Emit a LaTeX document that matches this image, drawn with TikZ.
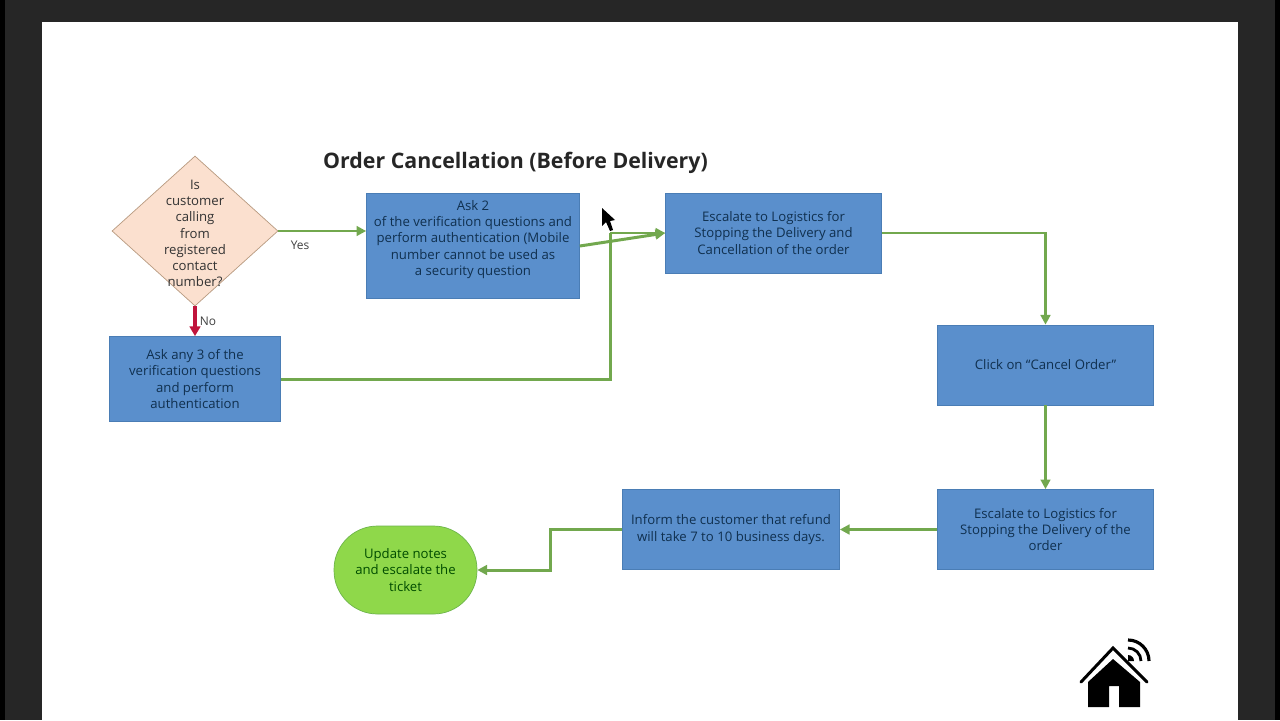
\documentclass[tikz,border=0pt]{standalone}
\usepackage{fontspec}
\setmainfont{Open Sans}
\usetikzlibrary{shapes.geometric,arrows.meta}
\definecolor{boxblue}{HTML}{5A8FCC}
\definecolor{boxedge}{HTML}{4A7DB5}
\definecolor{boxtext}{HTML}{10304F}
\definecolor{linkgreen}{HTML}{72A84E}
\definecolor{linkred}{HTML}{C0143C}
\definecolor{peach}{HTML}{FBE0CF}
\definecolor{peachedge}{HTML}{B89A80}
\definecolor{lime}{HTML}{8FD84A}
\definecolor{limeedge}{HTML}{6DB54A}
\definecolor{frame}{HTML}{262626}
\tikzset{
  flowbox/.style={draw=boxedge, fill=boxblue, text=boxtext, align=center, inner sep=0pt, font=\fontsize{7.5}{9.2}\selectfont},
  link/.style={draw=linkgreen, line width=1.7pt, -{Triangle[length=5.5pt,width=5.5pt]}},
  plain/.style={draw=linkgreen, line width=1.7pt},
}
\begin{document}
\begin{tikzpicture}[x=0.02cm,y=-0.02cm]
\useasboundingbox (0,0) rectangle (1280,720);
\fill[frame] (0,0) rectangle (1280,720);
\fill[black] (0,0) rectangle (5,720);
\fill[black] (1275,0) rectangle (1280,720);
\fill[white] (42,22) rectangle (1238,720);

\node[font=\fontsize{12.15}{14}\selectfont\bfseries, text=black!85] (title) at (515.5,163) {Order Cancellation (Before Delivery)};

% left column
\node[diamond, aspect=1.1, draw=peachedge, fill=peach, minimum width=3.32cm, minimum height=3cm, inner sep=0pt] (calling) at (195,231) {};
\node[text=black!80, align=center, font=\fontsize{7.5}{9.2}\selectfont] (callingtext) at (195,233.5) {Is\\customer\\calling\\from\\registered\\contact\\number?};
\node[flowbox, minimum width=3.42cm, minimum height=1.7cm] (askany) at (195,379) {Ask any 3 of the\\verification questions\\and perform\\authentication};

% top row
\node[flowbox, minimum width=4.26cm, minimum height=2.1cm] (asktwo) at (473,246) {Ask 2\\of the verification questions and\\perform authentication (Mobile\\number cannot be used as\\a security question\\[0pt]};
\node[flowbox, minimum width=4.32cm, minimum height=1.6cm] (logistics) at (773.5,233) {Escalate to Logistics for\\Stopping the Delivery and\\Cancellation of the order};

% right column
\node[flowbox, minimum width=4.32cm, minimum height=1.6cm] (cancel) at (1045.5,365) {Click on ``Cancel Order''};
\node[flowbox, minimum width=4.32cm, minimum height=1.6cm] (logisticstwo) at (1045.5,529.5) {Escalate to Logistics for\\Stopping the Delivery of the\\order};

% bottom row
\node[flowbox, minimum width=4.34cm, minimum height=1.6cm] (inform) at (731,529.5) {Inform the customer that refund\\will take 7 to 10 business days.};
\node[flowbox, draw=limeedge, fill=lime, text=green!30!black, rounded corners=0.87cm, minimum width=2.86cm, minimum height=1.76cm] (update) at (405.5,570) {Update notes\\and escalate the\\ticket};

% connectors
\coordinate (join) at (610,233);
\draw[link] (calling.east) -- (asktwo.west |- calling.east);
\draw[draw=linkred, line width=1.8pt, -{Triangle[length=5.5pt,width=6pt]}] (calling.south) -- (askany.north);
\draw[link] (asktwo.east |- 0,246) -- (logistics.west);
\draw[plain] (askany.east) -| (join);
\draw[link] (join) -- (logistics.west);
\draw[link] (logistics.east) -| (cancel.north);
\draw[link] (cancel.south) -- (logisticstwo.north);
\draw[link] (logisticstwo.west) -- (inform.east);
\draw[link] (inform.west) -- (550,529.5) |- (update.east);

\node[font=\fontsize{6.8}{9}\selectfont, text=black!75] (yes) at (300,245) {Yes};
\node[font=\fontsize{6.8}{9}\selectfont, text=black!75] (no) at (208,321) {No};

% cursor
\fill[black] (602,208) -- (602,226) -- (606,222) -- (610,231) -- (613,230) -- (610,221) -- (615,220) -- cycle;

% home icon
\fill[black] (1088,682) -- (1113,659) -- (1140,682) -- (1140,707) -- (1119,707) -- (1119,686) -- (1109,686) -- (1109,707) -- (1088,707) -- cycle;
\draw[black, line width=1.7pt, line cap=round] (1081,682) -- (1113,648) -- (1147,682);
\fill[black] (1128,661) -- (1128,655) arc (-90:0:6) -- cycle;
\draw[black, line width=1.6pt] (1128,648) arc (-90:0:13);
\draw[black, line width=1.8pt] (1128,640) arc (-90:0:21);
\end{tikzpicture}
\end{document}
